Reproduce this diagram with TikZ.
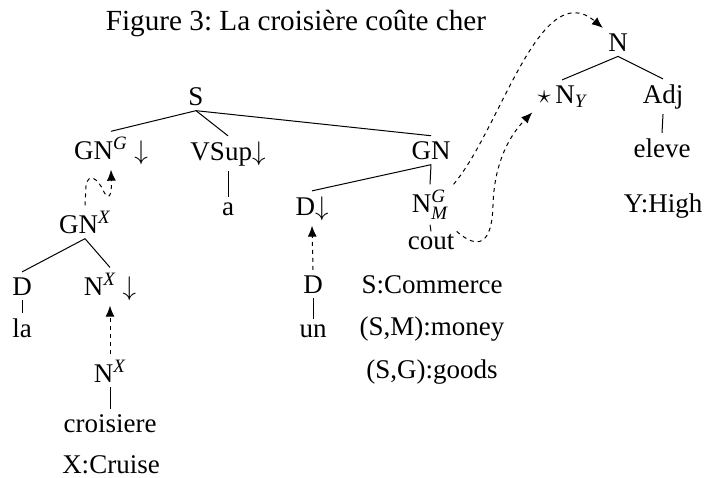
\documentclass[tikz,border=0pt]{standalone}
\usepackage{fix-cm}
\usepackage{amsmath}
\usepackage{fontspec}
\setmainfont{Liberation Serif}
\usetikzlibrary{arrows.meta}
\frenchspacing

\begin{document}
\begin{tikzpicture}[x=0.5pt,y=-0.5pt,
        lbl/.style={anchor=base,inner sep=2.5pt,font=\fontsize{13.5}{16}\selectfont},
        branch/.style={line width=0.5pt},
        link/.style={line width=0.5pt,dash pattern=on 2pt off 2pt,-{Latex[length=5.5pt,width=4.5pt]}}]
            \useasboundingbox (0,0) rectangle (704,477);
            \node[lbl,font=\fontsize{14.6}{17}\selectfont] (title) at (296,30) {Figure 3: La croisière coûte cher};
            \node[lbl] (s) at (196,105) {S};
            \node[lbl] (gng) at (111,159) {GN$^{\textit{G}}$ $\downarrow$};
            \node[lbl] (vsup) at (228,160) {VSup$\downarrow$};
            \node[lbl] (gn) at (431,159) {GN};
            \node[lbl] (a) at (228,215) {a};
            \node[lbl] (gnx) at (85,233) {GN$^{\textit{X}}$};
            \node[lbl] (ddown) at (312,215) {D$\downarrow$};
            \node[lbl] (ngm) at (430,212) {N$^{\textit{G}}_{\textit{M}}$};
            \node[lbl,inner sep=1pt] (cout) at (431,249) {cout};
            \node[lbl] (dl) at (22,295) {D};
            \node[lbl] (nx) at (110,295) {N$^{\textit{X}}$ $\downarrow$};
            \node[lbl] (dr) at (313,293) {D};
            \node[lbl] (la) at (22,337) {la};
            \node[lbl] (un) at (313,337) {un};
            \node[lbl] (nxl) at (110,382) {N$^{\textit{X}}$};
            \node[lbl] (crois) at (110,432) {croisiere};
            \node[lbl] (xcruise) at (111,473) {X:Cruise};
            \node[lbl] (scomm) at (432,293) {S:Commerce};
            \node[lbl] (smoney) at (432,335) {(S,M):money};
            \node[lbl] (sgoods) at (432,378) {(S,G):goods};
            \node[lbl] (n) at (618,51) {N};
            \node[lbl] (ny) at (562,103) {$\star$\,N$_{\textit{Y}}$};
            \node[lbl] (adj) at (663,103) {Adj};
            \node[lbl] (eleve) at (662,157) {eleve};
            \node[lbl] (yhigh) at (663,212) {Y:High};
            \foreach \p/\c in {s/gng,s/vsup,s/gn,vsup/a,gnx/dl,gnx/nx,dl/la,nxl/crois,gn/ddown,gn/ngm,ngm/cout,dr/un,n/ny,n/adj,adj/eleve}{
                \draw[branch] (\p.south)--(\c.north);
            }
            \draw[link] (gnx.north)--(86,186) .. controls (88,172) and (98,178) .. (104,192) .. controls (108,200) and (112,198) .. (gng.south);
            \draw[link] (nxl.north)--(nx.south);
            \draw[link] (dr.north)--(ddown.south);
            \draw[link] (ngm.north east) .. controls (500,130) and (540,-25) .. (n.north west);
            \draw[link] (cout.north east) .. controls (478,250) and (492,245) .. (493,205) .. controls (494,170) and (505,140) .. (ny.south west);
        \end{tikzpicture}
\end{document}
